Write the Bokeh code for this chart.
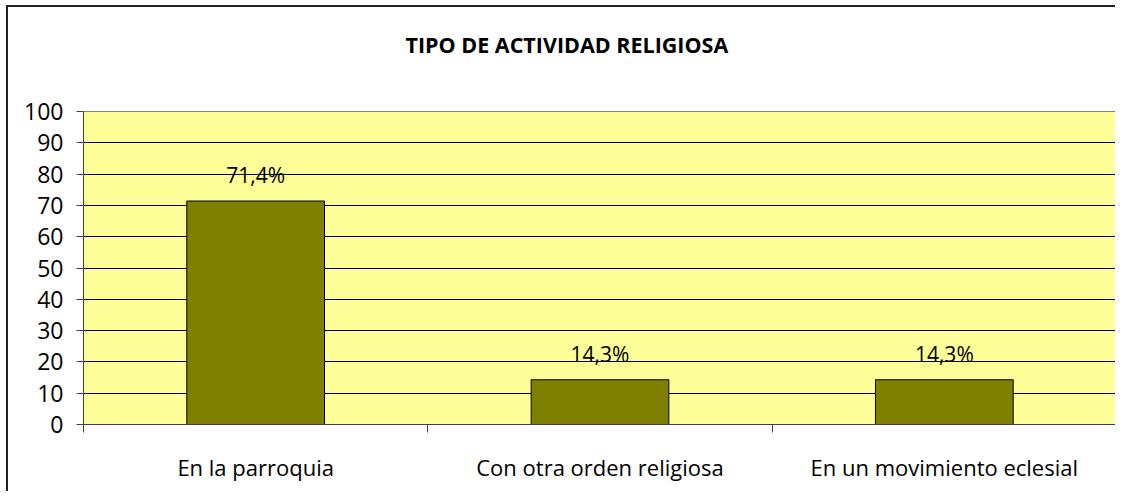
from bokeh.plotting import figure
from bokeh.models import ColumnDataSource, FixedTicker, Range1d, LabelSet, Title
from bokeh.core.properties import value
from bokeh.embed import file_html
from bokeh.resources import INLINE

categories = ["En la parroquia", "Con otra orden religiosa", "En un movimiento eclesial"]
values = [71.4, 14.3, 14.3]
value_labels = ["71,4%", "14,3%", "14,3%"]
y_ticks = [0, 10, 20, 30, 40, 50, 60, 70, 80, 90, 100]
title_text = "TIPO DE ACTIVIDAD RELIGIOSA"

FONT = "Open Sans"

xs = [i + 0.5 for i in range(len(categories))]
src = ColumnDataSource(dict(x=xs, top=values, lab=value_labels))

p = figure(width=1109, height=486, output_backend="svg", toolbar_location=None,
           x_range=Range1d(0, len(categories)), y_range=Range1d(0, 100),
           min_border_left=75, min_border_right=1, min_border_top=104, min_border_bottom=69)

p.styles = {"border-top": "2px solid #222222", "border-left": "2px solid #222222",
            "margin-left": "6px", "margin-top": "5px"}

# spacer (closest to the frame), then the real title above it
spacer = Title(text=" ", text_font=FONT, text_font_size="10px", standoff=16)
p.add_layout(spacer, "above")
main_title = Title(text=title_text, align="left", offset=322, standoff=41,
                   text_font=FONT, text_font_size="21.5px", text_font_style="bold",
                   text_color="black")
p.add_layout(main_title, "above")

p.background_fill_color = "#FFFF99"
p.border_fill_color = "white"
p.outline_line_color = "#808080"
p.outline_line_width = 1

p.vbar(x="x", top="top", width=0.4, source=src, fill_color="#808000",
       line_color="black", line_width=1)

labels = LabelSet(x="x", y="top", text="lab", source=src, text_align="center",
                  text_baseline="bottom", y_offset=12, text_font=value(FONT),
                  text_font_size=value("21px"), text_color="black")
p.add_layout(labels)

# y axis
p.yaxis.ticker = FixedTicker(ticks=y_ticks, minor_ticks=[])
p.yaxis.major_tick_out = 7
p.yaxis.major_tick_in = 0
p.yaxis.major_tick_line_color = "#404040"
p.yaxis.axis_line_color = "#404040"
p.yaxis.major_label_standoff = 13
p.yaxis.major_label_text_font = FONT
p.yaxis.major_label_text_font_size = "23px"
p.yaxis.major_label_text_color = "black"

# x axis
p.xaxis.ticker = FixedTicker(ticks=xs, minor_ticks=[float(i) for i in range(len(categories) + 1)])
p.xaxis.major_label_overrides = {x: c for x, c in zip(xs, categories)}
p.xaxis.major_tick_line_color = None
p.xaxis.minor_tick_out = 8
p.xaxis.minor_tick_in = 0
p.xaxis.minor_tick_line_color = "#404040"
p.xaxis.axis_line_color = "#404040"
p.xaxis.major_label_standoff = 19
p.xaxis.major_label_text_font = FONT
p.xaxis.major_label_text_font_size = "22px"
p.xaxis.major_label_text_color = "black"

p.xgrid.grid_line_color = None
p.ygrid.ticker = FixedTicker(ticks=y_ticks)
p.ygrid.grid_line_color = "black"
p.ygrid.grid_line_width = 1

open("out.html", "w").write(file_html(p, INLINE))
